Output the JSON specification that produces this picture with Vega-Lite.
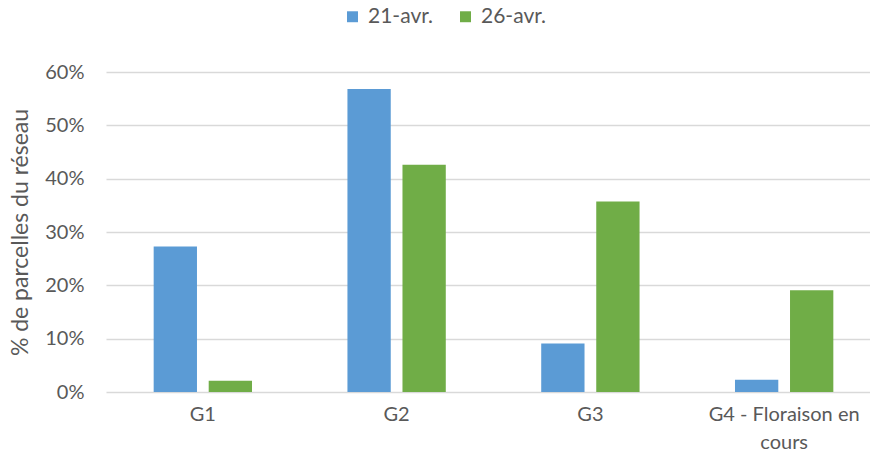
{
  "$schema": "https://vega.github.io/schema/vega-lite/v6.json",
  "width": 775,
  "height": 320,
  "autosize": {"type": "none"},
  "padding": {"left": 106, "top": 72, "right": 0, "bottom": 69},
  "background": "white",
  "config": {"view": {"stroke": null}, "font": "Lato"},
  "data": {
    "values": [
      {"stade": "G1", "date": "21-avr.", "pct": 0.273},
      {"stade": "G1", "date": "26-avr.", "pct": 0.021},
      {"stade": "G2", "date": "21-avr.", "pct": 0.568},
      {"stade": "G2", "date": "26-avr.", "pct": 0.426},
      {"stade": "G3", "date": "21-avr.", "pct": 0.091},
      {"stade": "G3", "date": "26-avr.", "pct": 0.357},
      {"stade": "G4 - Floraison en cours", "date": "21-avr.", "pct": 0.023},
      {"stade": "G4 - Floraison en cours", "date": "26-avr.", "pct": 0.191}
    ]
  },
  "mark": {"type": "bar"},
  "encoding": {
    "x": {
      "field": "stade", "type": "nominal", "sort": null,
      "scale": {"paddingInner": 0.4925, "paddingOuter": 0.246},
      "axis": {
        "title": null, "labelAngle": 0, "domain": false, "ticks": false,
        "labelFontSize": 20, "labelColor": "#595959", "labelPadding": 12, "labelLineHeight": 28, "labelLimit": 300,
        "labelExpr": "datum.value == 'G4 - Floraison en cours' ? ['G4 - Floraison en', 'cours'] : datum.value"
      }
    },
    "xOffset": {"field": "date", "type": "nominal", "scale": {"paddingInner": 0.213, "paddingOuter": 0}},
    "y": {
      "field": "pct", "type": "quantitative",
      "scale": {"domain": [0, 0.6], "nice": false},
      "axis": {
        "title": "% de parcelles du réseau", "titleFontSize": 23, "titleFontWeight": "normal", "titleColor": "#595959", "titlePadding": 12,
        "format": ".0%", "values": [0, 0.1, 0.2, 0.3, 0.4, 0.5, 0.6], "labelOverlap": false,
        "domain": false, "ticks": false, "labelPadding": 22,
        "labelFontSize": 20, "labelColor": "#595959",
        "gridColor": "#d9d9d9", "gridWidth": 1.5
      }
    },
    "color": {
      "field": "date", "type": "nominal",
      "scale": {"domain": ["21-avr.", "26-avr."], "range": ["#5B9BD5", "#70AD47"]},
      "legend": {
        "title": null, "orient": "none", "direction": "horizontal",
        "legendX": 236, "legendY": -66,
        "symbolType": "square", "symbolSize": 120, "symbolStrokeWidth": 0,
        "labelFontSize": 21, "labelColor": "#595959", "columnPadding": 22, "labelOffset": 5
      }
    }
  }
}
